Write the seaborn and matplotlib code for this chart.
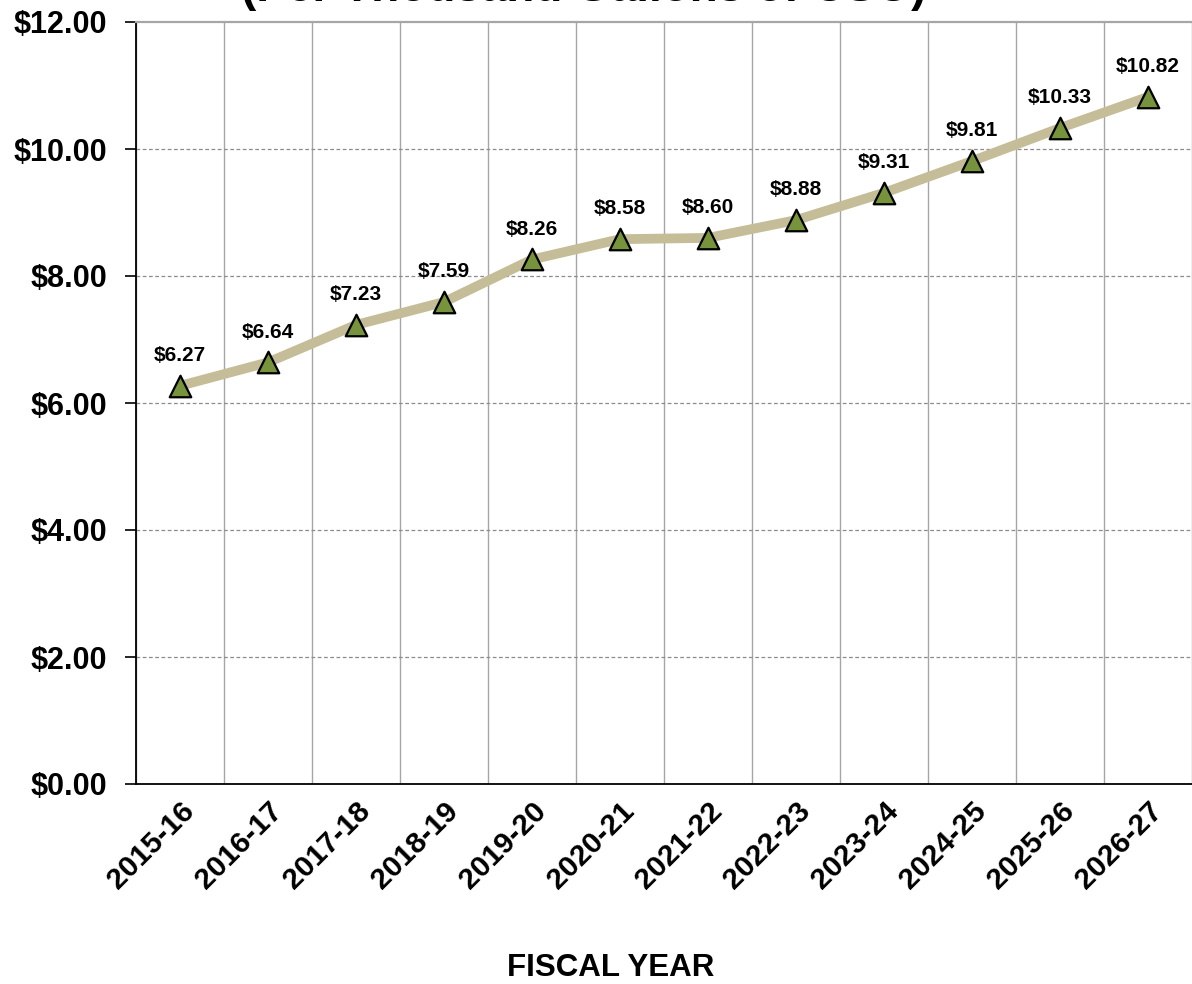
import numpy as np
import pandas as pd
import matplotlib
matplotlib.use("Agg")
import matplotlib.pyplot as plt
import seaborn as sns

# Datos
anios = ["2015-16", "2016-17", "2017-18", "2018-19", "2019-20", "2020-21",
         "2021-22", "2022-23", "2023-24", "2024-25", "2025-26", "2026-27"]
tarifas = [6.27, 6.64, 7.23, 7.59, 8.26, 8.58, 8.60, 8.88, 9.31, 9.81, 10.33, 10.82]

datos = pd.DataFrame({"anio": anios, "tarifa": tarifas})
datos["pos"] = np.arange(len(anios))

sns.set_theme(style="white")
plt.rcParams["font.family"] = ["Liberation Sans", "DejaVu Sans"]
plt.rcParams["text.color"] = "black"
plt.rcParams["xtick.color"] = "black"
plt.rcParams["ytick.color"] = "black"

fig = plt.figure(figsize=(11.92, 9.84), dpi=100)
ax = fig.add_axes([136 / 1192, 1 - 784 / 984, 1 - 136 / 1192, (784 - 22) / 984])

sns.lineplot(data=datos, x="pos", y="tarifa", ax=ax, color="#C4BD97",
             linewidth=7, zorder=3)
sns.scatterplot(data=datos, x="pos", y="tarifa", ax=ax, marker="^", s=240,
                color="#77933C", edgecolor="black", linewidth=1.6, zorder=4)

for x, y in zip(datos["pos"], datos["tarifa"]):
    ax.annotate(f"${y:.2f}", (x, y), xytext=(0, 15), textcoords="offset points",
                ha="center", va="bottom", fontsize=15, fontweight="bold")

# Ejes
ax.set_xlim(-0.5, len(anios) - 0.5)
ax.set_ylim(0, 12)
ax.set_yticks(np.arange(0, 13, 2))
ax.set_yticklabels([f"${v:.2f}" for v in np.arange(0, 13, 2)],
                   fontsize=22, fontweight="bold")
ax.set_xticks(datos["pos"])
ax.set_xticklabels(anios, fontsize=21.5, fontweight="bold", rotation=45,
                   ha="right", rotation_mode="anchor")
ax.set_xticks(np.arange(-0.5, len(anios), 1), minor=True)
ax.tick_params(axis="x", which="major", length=0, pad=9)
ax.tick_params(axis="x", which="minor", length=10, width=1.2,
               direction="inout", color="black")
ax.tick_params(axis="y", which="major", length=8, width=1.2,
               direction="out", color="black", left=True, pad=13)

ax.grid(False)
ax.grid(axis="x", which="minor", color="#A6A6A6", linewidth=1.0, linestyle="-")
for v in np.arange(2, 12, 2):
    ax.axhline(v, color="#8C8C8C", linewidth=0.9, linestyle=(0, (3, 2)), zorder=1)

for lado in ["left", "bottom"]:
    ax.spines[lado].set_color("black")
    ax.spines[lado].set_linewidth(1.3)
ax.spines["top"].set_color("#A6A6A6")
ax.spines["top"].set_linewidth(1.6)
ax.spines["right"].set_visible(False)

ax.set_xlabel("")
ax.set_ylabel("")

fig.text(611 / 1192, 1 - 968 / 984, "FISCAL YEAR", ha="center", va="center",
         fontsize=22.5, fontweight="bold")
fig.text(584 / 1192, 1 - 1 / 984, "(Per Thousand Gallons of CSO)", ha="center",
         va="baseline", fontsize=33, fontweight="bold")

plt.savefig("out.png", dpi=100)
